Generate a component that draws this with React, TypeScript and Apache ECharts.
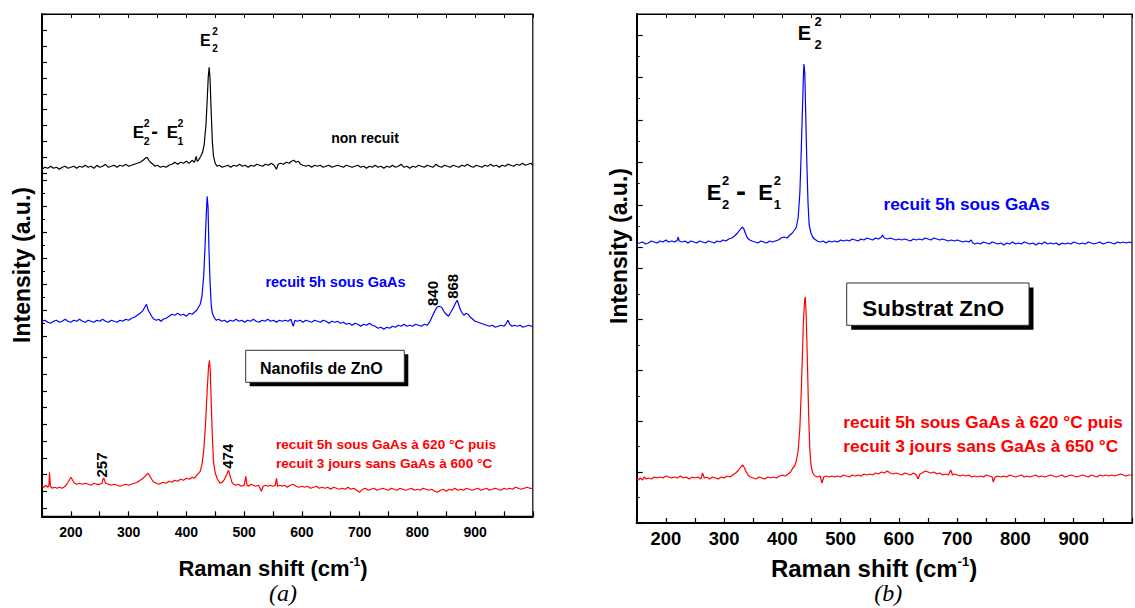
import React, { useEffect, useRef } from 'react';
import * as echarts from 'echarts';

const FONT = '"Liberation Sans", Arial, Helvetica, sans-serif';
const SERIF = '"Liberation Serif", "Times New Roman", serif';

const X_MIN = 150;
const X_MAX = 1000;
const X_STEP = 50;
const xTickLabels = [200, 300, 400, 500, 600, 700, 800, 900];

// (a) Nanofils de ZnO — offset spectra, arbitrary units
const aNonRecuit: [number, number][] = [
  [150,347],[155,349],[160,348],[165,350],[170,348],[175,349],[180,347],[185,349],[190,350],[195,348],[200,349],[205,350],[210,348],[215,350],[220,349],[225,351],[230,349],[235,350],[240,348],[245,351],[250,349],[255,350],[260,352],[265,349],[270,350],[275,351],[280,349],[285,351],[290,350],[295,352],[300,350],[305,351],[310,352],[315,353],[320,354],[325,356],[329,358],[332,359],[335,356],[338,354],[342,352],[346,350],[350,351],[355,349],[360,350],[365,349],[370,351],[375,352],[380,354],[385,352],[390,354],[395,353],[400,355],[405,353],[410,356],[414,354],[417,360],[419,355],[422,357],[425,360],[428,364],[431,372],[434,392],[436,415],[438,440],[439.5,449],[441,438],[443,405],[445,375],[447,360],[450,353],[453,350],[457,351],[462,349],[467,350],[472,351],[477,349],[482,351],[487,350],[492,352],[497,350],[502,351],[507,349],[512,351],[517,350],[522,352],[527,351],[532,350],[537,352],[542,351],[547,353],[552,351],[556,347],[559,352],[563,353],[568,352],[573,354],[578,353],[582,355],[586,356],[590,354],[594,355],[598,352],[602,351],[607,350],[612,351],[617,349],[622,351],[627,350],[632,351],[637,349],[642,350],[647,351],[652,349],[657,350],[662,351],[667,350],[672,349],[677,351],[682,350],[687,349],[692,350],[697,351],[702,349],[707,350],[712,348],[717,350],[722,349],[727,351],[732,349],[737,350],[742,348],[747,350],[752,349],[757,351],[762,349],[767,350],[772,352],[777,349],[782,350],[787,348],[792,350],[797,349],[802,351],[807,350],[812,349],[817,351],[822,350],[827,349],[832,352],[837,350],[842,349],[847,351],[852,350],[857,349],[862,351],[867,350],[872,349],[877,351],[882,350],[887,352],[892,350],[897,349],[902,351],[907,350],[912,349],[917,351],[922,350],[927,352],[932,350],[937,351],[942,349],[947,351],[952,350],[957,352],[962,351],[967,350],[972,352],[977,351],[982,353],[987,351],[992,352],[997,353],[1000,351]
];

const aRecuit5h: [number, number][] = [
  [150,195],[155,196],[160,194],[165,193],[170,195],[175,196],[180,194],[185,195],[190,197],[195,195],[200,194],[205,196],[210,195],[215,197],[220,195],[225,194],[230,196],[235,195],[240,194],[245,196],[250,195],[255,197],[260,195],[265,194],[270,196],[275,195],[280,194],[285,196],[290,195],[295,197],[300,196],[305,198],[310,199],[315,201],[320,203],[325,206],[329,210],[331,212],[334,206],[337,203],[340,200],[344,197],[348,196],[352,197],[356,195],[360,197],[365,198],[370,200],[375,202],[380,201],[385,203],[390,201],[395,202],[400,200],[405,203],[410,202],[414,204],[418,206],[421,209],[424,212],[427,220],[430,240],[432,265],[434,295],[436,320],[437.5,310],[439,270],[441,235],[443,212],[445,203],[448,199],[452,196],[456,197],[461,195],[466,196],[471,194],[476,196],[481,195],[486,197],[491,195],[496,196],[501,194],[506,196],[511,195],[516,197],[521,195],[526,194],[531,196],[536,195],[541,197],[546,195],[551,196],[556,194],[561,196],[566,195],[571,196],[576,195],[581,197],[585,190],[588,196],[592,195],[597,196],[602,194],[607,196],[612,195],[617,194],[622,196],[627,195],[632,194],[637,196],[642,195],[647,193],[652,195],[657,194],[662,195],[667,193],[672,194],[677,192],[682,193],[687,191],[692,193],[697,192],[702,190],[707,192],[712,191],[717,193],[722,191],[727,190],[732,188],[737,189],[742,187],[747,189],[752,188],[757,190],[762,189],[767,191],[772,190],[777,192],[782,190],[787,191],[792,190],[797,192],[802,191],[807,190],[812,192],[817,191],[822,195],[826,200],[830,205],[834,209],[838,210],[842,209],[846,205],[850,202],[854,200],[858,204],[862,208],[866,213],[869,216],[872,211],[875,206],[878,203],[881,201],[884,203],[888,202],[892,199],[896,197],[900,195],[905,194],[910,193],[915,192],[920,191],[925,190],[930,191],[935,189],[940,190],[945,191],[950,190],[954,193],[957,196],[960,192],[964,190],[968,191],[973,190],[978,191],[983,189],[988,190],[993,191],[998,190],[1000,190]
];

const aRecuit3j: [number, number][] = [
  [150,30],[153,29],[157,31],[160,29],[162,31],[163,44],[164.5,30],[168,28],[172,29],[176,28],[180,29],[185,28],[190,30],[194,33],[197,36],[200,39],[203,36],[206,33],[210,32],[215,33],[220,32],[225,33],[230,32],[235,31],[240,33],[245,32],[250,32],[254,33],[256,38],[258,37],[260,33],[265,32],[270,31],[275,32],[280,31],[285,30],[290,31],[295,32],[300,31],[305,32],[310,33],[315,34],[320,36],[325,38],[330,41],[334,43],[337,40],[340,37],[344,34],[348,33],[352,32],[356,33],[360,34],[365,33],[370,35],[375,34],[380,36],[385,35],[390,37],[395,36],[400,38],[405,37],[410,39],[414,38],[418,41],[421,43],[424,45],[427,52],[430,65],[433,90],[436,125],[438.5,150],[440,156],[441.5,145],[443,115],[445,80],[447,55],[450,43],[454,37],[458,33],[462,34],[466,37],[470,42],[473,46],[476,40],[479,34],[482,32],[486,31],[490,32],[495,30],[500,31],[503,40],[505,31],[508,30],[512,32],[516,31],[520,30],[525,31],[530,25],[533,30],[537,31],[541,30],[545,31],[550,30],[554,31],[556,38],[558,30],[562,31],[566,30],[570,31],[575,29],[580,31],[585,32],[590,30],[595,29],[600,30],[605,29],[610,30],[615,28],[620,29],[625,30],[630,28],[635,29],[640,28],[645,29],[650,27],[655,29],[660,28],[665,27],[670,28],[675,27],[680,29],[685,27],[690,28],[695,26],[700,24],[705,27],[710,28],[715,26],[720,27],[725,28],[730,26],[735,27],[740,28],[745,27],[750,26],[755,28],[760,27],[765,26],[770,28],[775,27],[780,26],[785,27],[790,28],[795,26],[800,27],[805,26],[810,28],[815,27],[820,26],[825,27],[830,25],[835,24],[840,26],[845,27],[850,25],[855,27],[860,26],[865,28],[870,26],[875,27],[880,26],[885,28],[890,27],[895,26],[900,27],[905,28],[910,26],[915,27],[920,28],[925,26],[930,27],[935,28],[940,27],[945,26],[950,28],[955,27],[960,28],[965,27],[970,29],[975,28],[980,27],[985,28],[990,29],[995,28],[1000,28]
];

// (b) Substrat ZnO
const bRecuit5h: [number, number][] = [
  [150,279],[155,280],[160,281],[165,279],[170,280],[175,282],[180,281],[185,280],[190,282],[195,281],[200,283],[205,281],[210,282],[215,281],[220,283],[221,286],[223,282],[228,281],[233,282],[238,280],[243,282],[248,281],[253,280],[258,282],[263,281],[268,280],[273,282],[278,281],[283,280],[288,282],[293,281],[298,283],[303,282],[308,284],[313,285],[318,287],[323,290],[327,293],[331,296],[334,294],[337,289],[340,285],[344,283],[348,282],[353,281],[358,280],[363,282],[368,281],[373,280],[378,282],[383,281],[388,282],[393,283],[398,285],[403,286],[408,285],[413,288],[417,290],[421,293],[424,296],[427,305],[430,330],[432,365],[434,405],[436,445],[437,459],[438.5,450],[440,410],[442,360],[444,320],[446,298],[449,290],[452,286],[455,284],[460,282],[465,281],[470,282],[475,280],[480,282],[485,281],[490,282],[495,281],[500,283],[505,282],[510,283],[515,282],[520,284],[525,283],[530,282],[535,284],[540,283],[545,285],[550,284],[555,283],[560,285],[565,284],[570,286],[572,288],[575,285],[580,284],[585,285],[590,284],[595,283],[600,284],[605,283],[610,284],[615,283],[620,282],[625,284],[630,283],[635,284],[640,283],[645,285],[650,284],[655,283],[660,285],[665,284],[670,283],[675,284],[680,283],[685,282],[690,283],[695,282],[700,283],[705,282],[710,281],[715,282],[720,281],[724,283],[727,280],[730,279],[735,280],[740,279],[745,281],[750,280],[755,279],[760,281],[765,280],[770,279],[775,280],[780,278],[785,280],[790,279],[795,281],[800,279],[805,280],[810,279],[815,281],[820,280],[825,279],[830,280],[835,278],[840,280],[845,279],[850,281],[855,279],[860,280],[865,279],[870,280],[875,278],[880,280],[885,279],[890,280],[895,279],[900,281],[905,280],[910,279],[915,280],[920,279],[925,281],[930,280],[935,279],[940,280],[945,281],[950,279],[955,280],[960,281],[965,280],[970,279],[975,281],[980,280],[985,281],[990,280],[995,281],[1000,280]
];

const bRecuit3j: [number, number][] = [
  [150,44],[153,43],[156,45],[160,43],[163,46],[166,44],[170,45],[175,44],[180,46],[185,45],[190,46],[195,45],[200,47],[205,46],[210,45],[215,46],[220,45],[225,47],[230,45],[235,46],[240,44],[245,46],[250,45],[255,46],[260,44],[263,50],[266,45],[270,46],[275,44],[280,46],[285,45],[290,44],[295,46],[300,45],[305,47],[310,46],[315,48],[320,50],[325,53],[329,56],[332,58],[335,55],[338,51],[341,48],[345,46],[350,45],[355,44],[360,46],[365,45],[370,44],[375,46],[380,45],[385,46],[390,45],[395,47],[400,48],[405,47],[410,49],[414,51],[418,55],[421,57],[424,62],[427,72],[430,95],[432,125],[434,160],[436,200],[438,222],[439.5,226],[441,205],[443,160],[445,110],[447,75],[449,58],[452,50],[456,47],[460,46],[465,47],[468,40],[471,46],[475,47],[480,46],[485,47],[490,46],[495,47],[500,46],[505,48],[510,47],[515,46],[520,48],[525,47],[530,48],[535,47],[540,49],[545,48],[550,49],[555,48],[560,50],[565,49],[570,51],[575,50],[580,52],[585,50],[590,49],[595,50],[600,49],[605,48],[610,50],[615,49],[620,48],[625,50],[630,48],[633,44],[636,49],[640,50],[645,52],[650,51],[655,50],[660,51],[665,49],[670,50],[675,48],[680,49],[685,48],[689,53],[692,48],[695,49],[700,48],[705,47],[710,48],[715,47],[720,48],[725,46],[730,47],[735,46],[740,47],[745,46],[750,48],[755,47],[760,46],[762,41],[765,46],[770,47],[775,46],[780,47],[785,46],[790,48],[795,47],[800,46],[805,47],[810,48],[815,46],[820,47],[825,46],[830,47],[835,48],[840,46],[845,47],[850,46],[855,47],[860,48],[865,47],[870,46],[875,47],[880,48],[885,46],[890,47],[895,48],[900,47],[905,46],[910,47],[915,48],[920,47],[925,46],[930,48],[935,47],[940,46],[945,48],[950,47],[955,48],[960,47],[965,48],[970,47],[975,48],[980,49],[985,48],[990,47],[995,48],[1000,48]
];

const A_Y_MAX = 502.3;
const B_Y_MAX = 509;

function txt(x: number, y: number, text: string, size: number, opts: any = {}) {
  return {
    type: 'text',
    x,
    y,
    rotation: opts.rotation || 0,
    z: 100,
    style: {
      text,
      fill: opts.fill || '#000',
      fontSize: size,
      fontWeight: opts.weight || 'bold',
      fontStyle: opts.style || 'normal',
      fontFamily: opts.family || FONT,
      align: opts.align || 'center',
      verticalAlign: 'middle',
      rich: opts.rich,
    },
  };
}

function boxWithShadow(x: number, y: number, w: number, h: number, off: number) {
  return [
    { type: 'rect', z: 90, shape: { x: x + off, y: y + off, width: w, height: h }, style: { fill: '#000' } },
    { type: 'rect', z: 91, shape: { x, y, width: w, height: h }, style: { fill: '#fff', stroke: '#333', lineWidth: 1 } },
  ];
}

const R = Math.PI / 2;

export default function App() {
  const ref = useRef<HTMLDivElement>(null);

  useEffect(() => {
    if (!ref.current) return;
    const chart = echarts.init(ref.current, undefined, { renderer: 'svg' });

    const fmt = (v: number) => (xTickLabels.includes(v) ? String(v) : '');

    const mainX = (gridIndex: number, fontSize: number, margin: number, lw: number) => ({
      type: 'value', gridIndex, min: X_MIN, max: X_MAX, interval: X_STEP, position: 'bottom',
      axisLine: { show: true, onZero: false, lineStyle: { color: '#000', width: lw } },
      axisTick: { show: true, inside: true, length: 5, lineStyle: { color: '#000', width: 1.2 } },
      axisLabel: { show: true, interval: 0, formatter: fmt, margin, color: '#000', fontSize, fontWeight: 'bold', fontFamily: FONT, showMinLabel: true, showMaxLabel: true },
      splitLine: { show: false },
    });
    const topX = (gridIndex: number) => ({
      type: 'value', gridIndex, min: X_MIN, max: X_MAX, interval: X_STEP, position: 'top',
      axisLine: { show: true, onZero: false, lineStyle: { color: '#000', width: 1.2 } },
      axisTick: { show: true, inside: true, length: 4, lineStyle: { color: '#000', width: 1 } },
      axisLabel: { show: false },
      splitLine: { show: false },
    });
    const hiddenX = (gridIndex: number) => ({ type: 'value', gridIndex, min: 0, max: 1, show: false });
    const tickY = (gridIndex: number, max: number, minor: boolean, len: number) => ({
      type: 'value', gridIndex, min: 0, max, interval: 1,
      axisLine: { show: false },
      axisTick: { show: true, inside: true, length: len, lineStyle: { color: '#000', width: 1.2 } },
      minorTick: { show: minor, splitNumber: 2, length: 3, lineStyle: { color: '#000', width: 1 } },
      axisLabel: { show: false },
      splitLine: { show: false },
      minorSplitLine: { show: false },
    });

    const grids = [
      { left: 42, top: 14, width: 490.8, height: 502.3, show: true, borderColor: '#000', borderWidth: 1.2, backgroundColor: 'transparent' },
      { left: 636.7, top: 14, width: 511, height: 509, show: true, borderColor: '#000', borderWidth: 1.2, backgroundColor: 'transparent' },
      // tick-only grids (left panel)
      { left: 42, top: 14.5, width: 490, height: 158.5, show: false },
      { left: 42, top: 180.3, width: 490, height: 156, show: false },
      { left: 42, top: 357.3, width: 490, height: 150.7, show: false },
      // tick-only grids (right panel)
      { left: 636.7, top: 35, width: 500, height: 212.3, show: false },
      { left: 636.7, top: 268.5, width: 500, height: 254.5, show: false },
    ];

    const lineSeries = (name: string, data: [number, number][], color: string, xi: number, yi: number) => ({
      name, type: 'line', data, xAxisIndex: xi, yAxisIndex: yi,
      showSymbol: false, symbol: 'none', clip: true, silent: true,
      lineStyle: { color, width: 1.2 },
    });

    const graphic: any[] = [
      // ---------- panel (a) ----------
      txt(200, 40, 'E', 16, { align: 'left' }),
      txt(215, 31.5, '2', 10),
      txt(215, 48.5, '2', 10),
      txt(132.7, 132, 'E', 17, { align: 'left' }),
      txt(146.7, 123, '2', 10.5),
      txt(146.7, 141.3, '2', 10.5),
      txt(154.5, 131, '-', 20),
      txt(166.7, 132, 'E', 17, { align: 'left' }),
      txt(180.3, 123, '2', 10.5),
      txt(180.3, 141.3, '1', 10.5),
      txt(365, 138, 'non recuit', 14),
      txt(335.5, 282.3, 'recuit 5h sous GaAs', 14.5, { fill: '#0000ff' }),
      txt(432.7, 293.5, '840', 15, { rotation: R }),
      txt(452.7, 286.3, '868', 15, { rotation: R }),
      txt(101, 465, '257', 15, { rotation: R }),
      txt(227.7, 456.3, '474', 15, { rotation: R }),
      txt(276, 444.7, 'recuit 5h sous GaAs à 620 °C puis', 13.6, { fill: '#ff0000', align: 'left' }),
      txt(276, 463.7, 'recuit 3 jours sans GaAs à 600 °C', 13.6, { fill: '#ff0000', align: 'left' }),
      ...boxWithShadow(245.7, 350.3, 158.6, 32, 4),
      txt(260, 368.5, 'Nanofils de ZnO', 16, { align: 'left' }),
      txt(21.5, 265, 'Intensity (a.u.)', 23, { rotation: R }),
      txt(273, 568, '{a|Raman shift (cm}{s|-1}{a|)}', 22, {
        rich: {
          a: { fontSize: 22, fontWeight: 'bold', fontFamily: FONT, fill: '#000', lineHeight: 24 },
          s: { fontSize: 12, fontWeight: 'bold', fontFamily: FONT, fill: '#000', verticalAlign: 'top', lineHeight: 24 },
        },
      }),
      txt(283, 593, '(a)', 24, { weight: 'normal', style: 'italic', family: SERIF }),
      // ---------- panel (b) ----------
      txt(797.7, 33, 'E', 20, { align: 'left' }),
      txt(818, 21.7, '2', 13),
      txt(818, 44, '2', 13),
      txt(706.7, 192.3, 'E', 22, { align: 'left' }),
      txt(725.7, 180.7, '2', 13),
      txt(725.7, 204.7, '2', 13),
      txt(741, 190, '-', 30),
      txt(758.3, 192.3, 'E', 22, { align: 'left' }),
      txt(777.3, 180.7, '2', 13),
      txt(777.3, 204.7, '1', 13),
      txt(966.7, 204, 'recuit 5h sous GaAs', 17.2, { fill: '#0000ff' }),
      ...boxWithShadow(846.7, 283, 182.3, 42.3, 4.5),
      txt(862.3, 308.7, 'Substrat ZnO', 22.4, { align: 'left' }),
      txt(843.3, 422.3, 'recuit 5h sous GaAs à 620 °C puis', 17.3, { fill: '#ff0000', align: 'left' }),
      txt(843.3, 446.3, 'recuit 3 jours sans GaAs à 650 °C', 17.3, { fill: '#ff0000', align: 'left' }),
      txt(619, 246, 'Intensity (a.u.)', 23, { rotation: R }),
      txt(874, 568, '{a|Raman shift (cm}{s|-1}{a|)}', 24, {
        rich: {
          a: { fontSize: 24, fontWeight: 'bold', fontFamily: FONT, fill: '#000', lineHeight: 26 },
          s: { fontSize: 13, fontWeight: 'bold', fontFamily: FONT, fill: '#000', verticalAlign: 'top', lineHeight: 26 },
        },
      }),
      txt(888.3, 593, '(b)', 24, { weight: 'normal', style: 'italic', family: SERIF }),
    ];

    chart.setOption({
      animation: false,
      backgroundColor: '#fff',
      grid: grids,
      xAxis: [
        mainX(0, 14, 9, 2),
        topX(0),
        mainX(1, 18.4, 6, 2),
        topX(1),
        hiddenX(2), hiddenX(3), hiddenX(4), hiddenX(5), hiddenX(6),
      ],
      yAxis: [
        { type: 'value', gridIndex: 0, min: 0, max: A_Y_MAX, show: true, axisLine: { show: true, lineStyle: { color: '#000', width: 2 } }, axisTick: { show: false }, axisLabel: { show: false }, splitLine: { show: false } },
        { type: 'value', gridIndex: 1, min: 0, max: B_Y_MAX, show: true, axisLine: { show: true, lineStyle: { color: '#000', width: 2 } }, axisTick: { show: false }, axisLabel: { show: false }, splitLine: { show: false } },
        tickY(2, 10, false, 5),
        tickY(3, 6, true, 5),
        tickY(4, 9, false, 5),
        tickY(5, 5, true, 6),
        tickY(6, 5, true, 6),
      ],
      series: [
        lineSeries('non recuit', aNonRecuit, '#000000', 0, 0),
        lineSeries('recuit 5h sous GaAs', aRecuit5h, '#0000ff', 0, 0),
        lineSeries('recuit 5h sous GaAs à 620 °C puis recuit 3 jours sans GaAs à 600 °C', aRecuit3j, '#ff0000', 0, 0),
        lineSeries('recuit 5h sous GaAs (substrat)', bRecuit5h, '#0000ff', 2, 1),
        lineSeries('recuit 5h sous GaAs à 620 °C puis recuit 3 jours sans GaAs à 650 °C', bRecuit3j, '#ff0000', 2, 1),
      ],
      graphic,
    });

    return () => chart.dispose();
  }, []);

  return (
    <div
      ref={ref}
      style={{ position: 'fixed', left: 0, top: 0, width: 1135, height: 608, background: '#fff' }}
    />
  );
}
